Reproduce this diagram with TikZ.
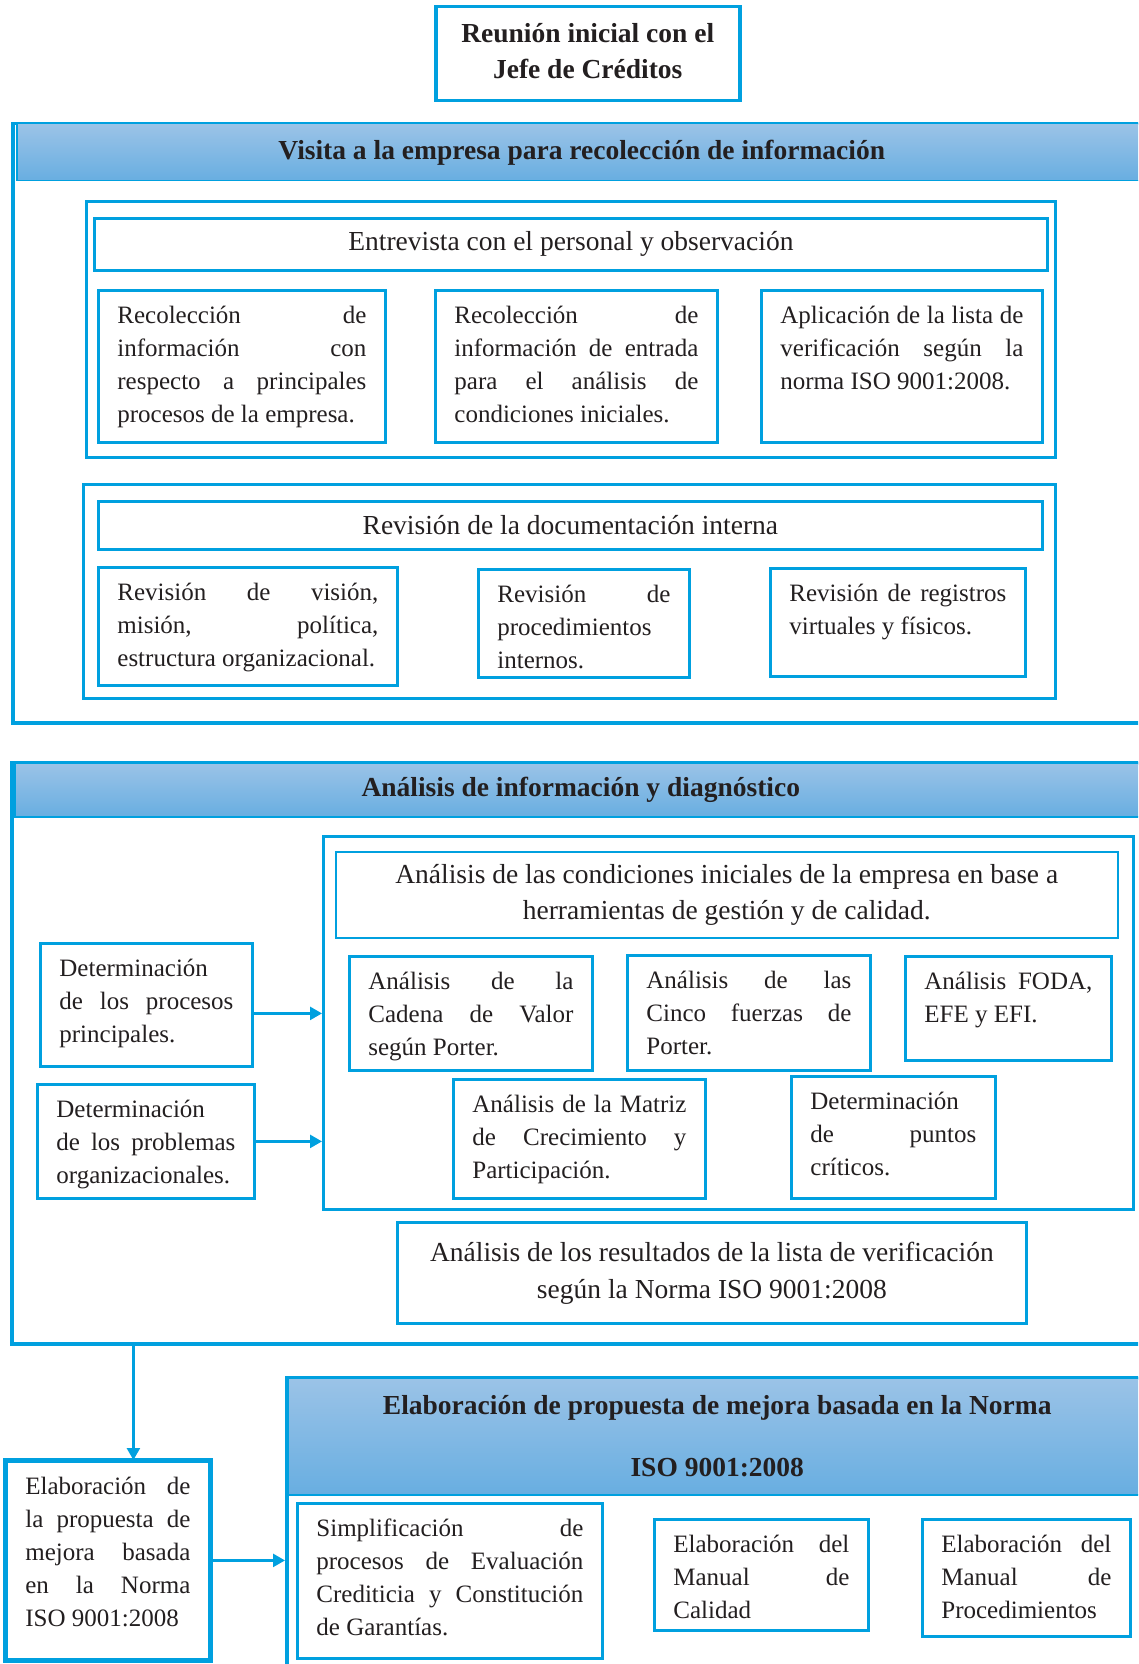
\documentclass[tikz,border=0pt]{standalone}
\usepackage{fontspec}
\setmainfont{Liberation Serif}
\usetikzlibrary{arrows.meta}
\definecolor{bl}{RGB}{0,160,223}
\definecolor{hdtop}{RGB}{155,195,231}
\definecolor{hdbot}{RGB}{104,174,225}
\definecolor{tc}{RGB}{35,31,32}
\newcommand\bodyf{\fontsize{25}{33}\selectfont}
\newcommand\titf{\fontsize{27.5}{36}\selectfont}
\newcommand\jl[1]{\makebox[\linewidth][s]{#1}}
\hbadness=10000 \hfuzz=20pt
\newcommand\tb[6]{\node[bx] (#1) at (#2,#3) {\parbox[c][\dimexpr#5pt-#3pt-20pt\relax][t]{\dimexpr#4pt-#2pt-38pt\relax}{\bodyf\strut #6}};}
\newcommand\rb[7]{\node[#6, anchor=north west, inner sep=0pt, minimum width={#4pt-#2pt}, minimum height={#5pt-#3pt}] (#1) at (#2,#3) {#7};}
\tikzset{
  bx/.style={draw=bl, line width=2.8pt, inner xsep=19pt, inner ysep=10pt, anchor=north west, text=tc},
  frame/.style={draw=bl, line width=3.5pt},
  grp/.style={draw=bl, line width=3pt},
  hd/.style={draw=bl, line width=1.5pt, top color=hdtop, bottom color=hdbot, font=\titf\bfseries, align=center, text=tc},
  tt/.style={draw=bl, line width=2.8pt, font=\titf, align=center, text=tc},
  arr/.style={draw=bl, line width=2.5pt, -{Triangle[length=12pt,width=13pt]}}
}
\begin{document}
\begin{tikzpicture}[x=1pt,y=-1pt]
\useasboundingbox (0,0) rectangle (1138,1664);
\clip (0,0) rectangle (1138,1664);
\fill[white] (0,0) rectangle (1138,1664);
% top
\rb{top}{434}{5}{738}{99}{draw=bl,line width=3.5pt,align=center,font=\titf\bfseries,text=tc}{Reunión inicial con el\\Jefe de Créditos\rule[-6pt]{0pt}{0pt}}
% section 1
\rb{s1}{11}{122}{1146}{721}{frame}{}
\rb{h1}{16}{123}{1146}{180}{hd}{Visita a la empresa para recolección de información}
\rb{gA}{85}{200}{1054}{456}{grp}{}
\rb{ent}{93}{217}{1046}{269}{tt}{Entrevista con el personal y observación}
\tb{a1}{97}{289}{384}{441}{\jl{Recolección de}\\\jl{información con}\\\jl{respecto a principales}\\procesos de la empresa.}
\tb{a2}{434}{289}{716}{441}{\jl{Recolección de}\\\jl{información de entrada}\\\jl{para el análisis de}\\condiciones iniciales.}
\tb{a3}{760}{289}{1041}{441}{\jl{Aplicación de la lista de}\\\jl{verificación según la}\\norma ISO 9001:2008.}
\rb{gB}{82}{483}{1054}{697}{grp}{}
\rb{rev}{97}{500}{1041}{548}{tt}{Revisión de la documentación interna}
\tb{b1}{97}{566}{396}{684}{\jl{Revisión de visión,}\\\jl{misión, política,}\\estructura organizacional.}
\tb{b2}{477}{568}{688}{676}{\jl{Revisión de}\\procedimientos\\internos.}
\tb{b3}{769}{567}{1024}{675}{\jl{Revisión de registros}\\virtuales y físicos.}
% section 2
\rb{s2}{10}{761}{1146}{1342}{frame}{}
\rb{h2}{14}{762}{1146}{816}{hd}{Análisis de información y diagnóstico\rule[-4pt]{0pt}{0pt}}
\rb{in2}{322}{835}{1132}{1208}{grp}{}
\rb{cond}{335}{851}{1117}{937}{draw=bl,line width=1.5pt,font=\titf,align=center,text=tc}{Análisis de las condiciones iniciales de la empresa en base a\\herramientas de gestión y de calidad.}
\tb{c1}{348}{955}{591}{1069}{\jl{Análisis de la}\\\jl{Cadena de Valor}\\según Porter.}
\tb{c2}{626}{954}{869}{1069}{\jl{Análisis de las}\\\jl{Cinco fuerzas de}\\Porter.}
\tb{c3}{904}{955}{1110}{1059}{\jl{Análisis FODA,}\\EFE y EFI.}
\tb{c4}{452}{1078}{704}{1197}{\jl{Análisis de la Matriz}\\\jl{de Crecimiento y}\\Participación.}
\tb{c5}{790}{1075}{994}{1197}{Determinación\\\jl{de puntos}\\críticos.}
\tb{d1}{39}{942}{251}{1065}{Determinación\\\jl{de los procesos}\\principales.}
\tb{d2}{36}{1083}{253}{1197}{Determinación\\\jl{de los problemas}\\organizacionales.}
\rb{e}{396}{1221}{1025}{1322}{draw=bl,line width=2.8pt,font=\fontsize{27.5}{37}\selectfont,align=center,text=tc}{Análisis de los resultados de la lista de verificación\\según la Norma ISO 9001:2008}
% section 3
\rb{s3}{285}{1376}{1146}{1700}{frame}{}
\rb{h3}{287}{1377}{1146}{1494}{hd,font=\fontsize{27.5}{62}\selectfont\bfseries}{Elaboración de propuesta de mejora basada en la Norma\\ISO 9001:2008}
\tb{f}{5}{1460}{208}{1658}{\jl{Elaboración de}\\\jl{la propuesta de}\\\jl{mejora basada}\\\jl{en la Norma}\\ISO 9001:2008}
\tb{g1}{296}{1502}{601}{1657}{\jl{Simplificación de}\\\jl{procesos de Evaluación}\\\jl{Crediticia y Constitución}\\de Garantías.}
\tb{g2}{653}{1518}{867}{1629}{\jl{Elaboración del}\\\jl{Manual de}\\Calidad}
\tb{g3}{921}{1518}{1129}{1635}{\jl{Elaboración del}\\\jl{Manual de}\\Procedimientos}
\draw[bl, line width=3.6pt] (f.north west) rectangle (f.south east);
% arrows
\draw[arr] ([yshift=-8.5pt]d1.east) -- ([yshift=-8.5pt]d1.east -| in2.west);
\draw[arr] (d2.east) -- (d2.east -| in2.west);
\draw[arr] ([xshift=25.5pt]f.north |- s2.south) -- ([xshift=25.5pt]f.north);
\draw[arr] (f.east) -- (f.east -| s3.west);
\end{tikzpicture}
\end{document}
